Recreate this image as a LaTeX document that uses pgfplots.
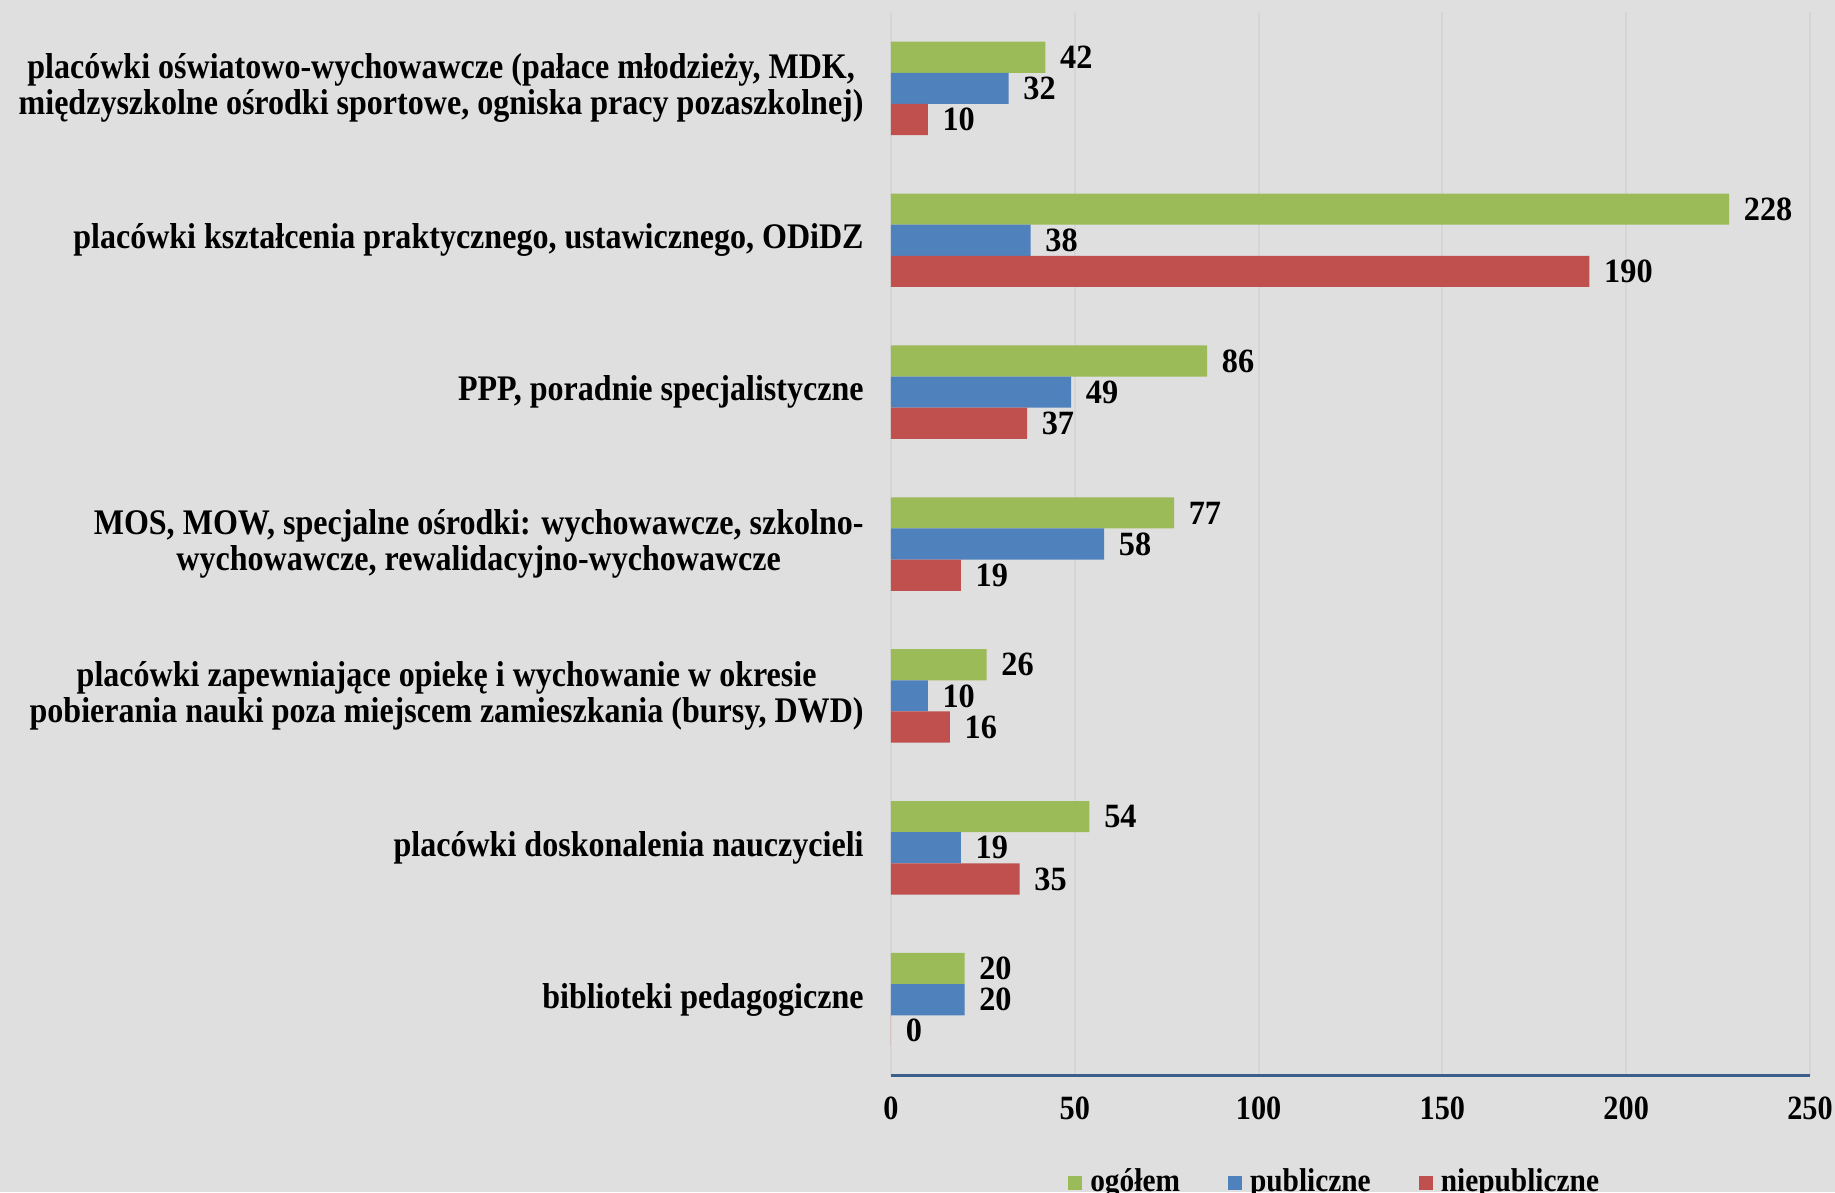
\documentclass[border=0pt]{standalone}
\usepackage{pgfplots}
\pgfplotsset{compat=1.18}
\usepackage{fontspec}
\setmainfont{Liberation Serif}
\newfontfamily\catfont{Liberation Serif}[FakeStretch=0.89]
\newfontfamily\numfont{Liberation Serif}[FakeStretch=0.95]

\definecolor{bgc}{HTML}{DFDFDF}
\definecolor{gridc}{HTML}{D6D6D6}
\definecolor{axisblue}{HTML}{3A5F8B}
\definecolor{cgreen}{HTML}{9BBB59}
\definecolor{cblue}{HTML}{4F81BD}
\definecolor{cred}{HTML}{C0504D}

\begin{document}
\begin{tikzpicture}
% background and fixed page size (1 px = 0.25pt)
\fill[bgc] (0,0) rectangle (458.75pt,-298pt);
\useasboundingbox (0,0) rectangle (458.75pt,-298pt);

\begin{axis}[
    at={(222.75pt,-268.9pt)}, anchor=south west,
    scale only axis,
    width=229.75pt, height=265.8pt,
    xmin=0, xmax=250,
    ymin=-0.5, ymax=6.5,
    y dir=reverse,
    xtick={0,50,...,250},
    ytick={0,...,6},
    yticklabels={
        {placówki oświatowo-wychowawcze (pałace młodzieży, MDK,\\międzyszkolne ośrodki sportowe, ogniska pracy pozaszkolnej)},
        {placówki kształcenia praktycznego, ustawicznego, ODiDZ},
        {PPP, poradnie specjalistyczne},
        {MOS, MOW, specjalne ośrodki: wychowawcze, szkolno-\\wychowawcze, rewalidacyjno-wychowawcze},
        {placówki zapewniające opiekę i wychowanie w okresie\\pobierania nauki poza miejscem zamieszkania (bursy, DWD)},
        {placówki doskonalenia nauczycieli},
        {biblioteki pedagogiczne}},
    yticklabel style={font=\catfont\bfseries\fontsize{9pt}{9pt}\selectfont,
        align=center, anchor=east, inner sep=0pt, xshift=-6.65pt},
    xticklabel style={font=\catfont\bfseries\fontsize{8.5pt}{9pt}\selectfont,
        anchor=center, inner sep=0pt, yshift=-8.25pt},
    /pgf/number format/assume math mode=true,
    major tick length=0pt,
    xmajorgrids,
    major grid style={gridc, line width=0.5pt},
    axis x line*=bottom,
    axis y line*=left,
    x axis line style={axisblue, line width=0.75pt, -},
    y axis line style={draw=none},
    xbar,
    bar width=0.205,
    point meta=x,
    nodes near coords,
    every node near coord/.append style={font=\numfont\bfseries\fontsize{8.5pt}{10pt}\selectfont,
        anchor=west, inner sep=0pt, xshift=3.5pt, text=black},
    legend columns=3,
    legend style={at={(0.5,0)}, anchor=center, yshift=-26.8pt, xshift=-3.2pt,
        draw=none, fill=none, inner sep=0pt,
        font=\catfont\bfseries\fontsize{8.25pt}{9pt}\selectfont,
        /tikz/every even column/.append style={column sep=10pt}},
    legend cell align=left,
    legend image code/.code={\fill[#1] (0pt,-1.75pt) rectangle (3.5pt,1.75pt);},
]

\addplot[fill=cgreen, draw=none, bar shift=-0.205] coordinates {
    (42,0) (228,1) (86,2) (77,3) (26,4) (54,5) (20,6)
};
\addlegendentry{ogółem}

\addplot[fill=cblue, draw=none, bar shift=0] coordinates {
    (32,0) (38,1) (49,2) (58,3) (10,4) (19,5) (20,6)
};
\addlegendentry{publiczne}

\addplot[fill=cred, draw=none, bar shift=0.205] coordinates {
    (10,0) (190,1) (37,2) (19,3) (16,4) (35,5) (0,6)
};
\addlegendentry{niepubliczne}

\end{axis}
\end{tikzpicture}
\end{document}
